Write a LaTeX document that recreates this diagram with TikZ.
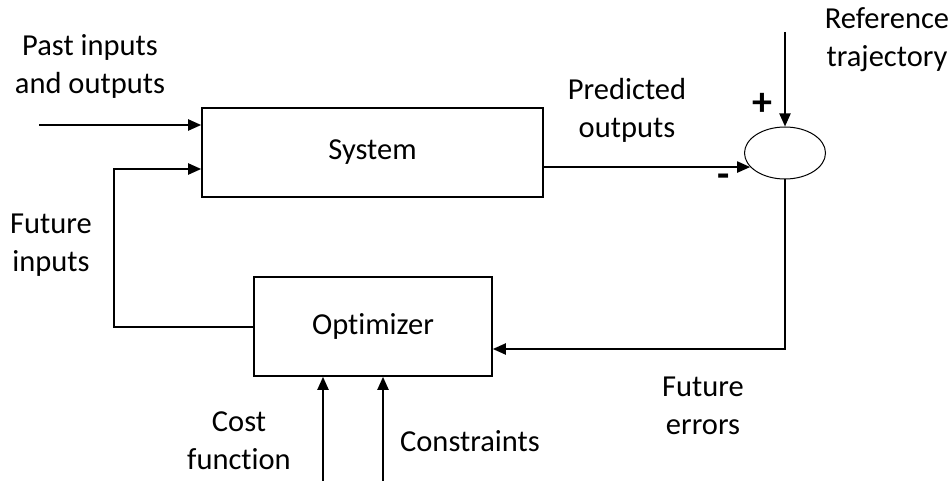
\documentclass[tikz,border=0pt]{standalone}
\usepackage{fontspec}
\setmainfont{Carlito}[Ligatures=NoCommon]
\usetikzlibrary{arrows.meta,shapes.geometric}
\begin{document}
\begin{tikzpicture}[x=1pt,y=-1pt,
  every node/.style={font=\fontsize{30.5}{38}\selectfont, align=center, inner sep=0pt},
  block/.style={draw, line width=1.6pt},
  sign/.style={font=\fontsize{40}{40}\selectfont\bfseries},
  flow/.style={line width=2pt, -{Triangle[length=13pt,width=11pt]}},
  wire/.style={line width=2pt}]
\useasboundingbox (0,0) rectangle (952,481);

% blocks
\node[block, minimum width=341pt, minimum height=89pt] (sys) at (372.5,152.5) {System};
\node[block, minimum width=238pt, minimum height=99pt] (opt) at (373,326.5) {Optimizer};
\node[draw, ellipse, line width=1pt, minimum width=81pt, minimum height=52pt] (sum) at (785,153) {};

% free ends
\coordinate (pastin) at (39,125);
\coordinate (refin) at (785,32);
\coordinate (costin) at (323,481);
\coordinate (consin) at (383,481);
\coordinate (errcorner) at (785,349);
\coordinate (fbl) at (114,327);
\coordinate (fbt) at (114,169);

% connectors
\draw[flow] (pastin) -- (pastin -| sys.west);
\draw[flow] (opt.west |- fbl) -- (fbl) -- (fbt) -- (fbt -| sys.west);
\draw[flow] (sys.east |- sum.202) -- (sum.202);
\draw[flow] (refin) -- (sum.north);
\draw[flow] (sum.south) -- (errcorner) -- (errcorner -| opt.east);
\draw[flow] (costin) -- (costin |- opt.south);
\draw[flow] (consin) -- (consin |- opt.south);

% labels
\node (lpast) at (90,66) {Past inputs\\and outputs};
\node (lfin) at (51,245) {Future\\inputs};
\node (lpred) at (627,110) {Predicted\\outputs};
\node (lref) at (887,40) {Reference\\trajectory};
\node[sign] (lplus) at (762,104) {+};
\node[sign] (lminus) at (724,181) {-};
\node (lcost) at (239,441) {Cost\\function};
\node (lcons) at (470,441) {Constraints};
\node (lerr) at (703,406) {Future\\errors};
\end{tikzpicture}
\end{document}
